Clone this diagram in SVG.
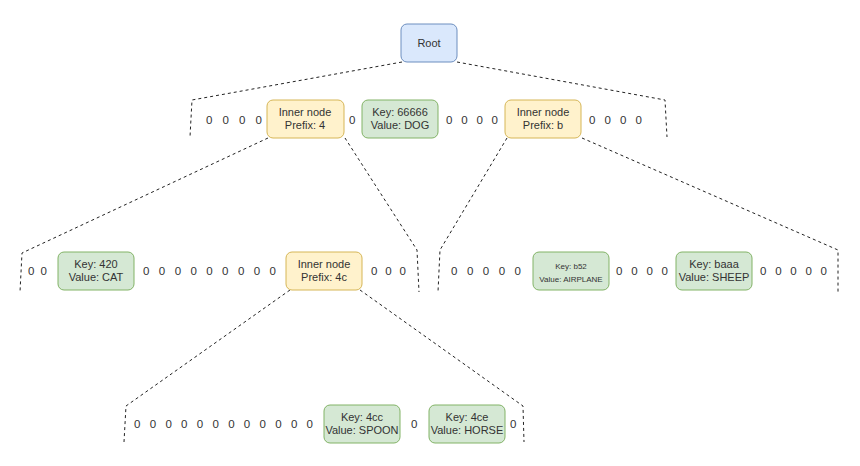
<svg xmlns="http://www.w3.org/2000/svg" width="860" height="466" viewBox="0 0 860 466">
<style>
.n{stroke-width:1}
.b{fill:#dae8fc;stroke:#6c8ebf}
.y{fill:#fff2cc;stroke:#d6b656}
.g{fill:#d5e8d4;stroke:#82b366}
text{font-family:"Liberation Sans",Arial,sans-serif;font-size:11px;fill:#333;text-anchor:middle}
.z{text-anchor:start;font-size:11.5px}
.s{font-size:8px}
.c{fill:none;stroke:#222;stroke-width:1;stroke-dasharray:3 3}
</style>
<rect width="860" height="466" fill="#fff"/>
<g id="connectors">
<polyline class="c" points="402,62 192,100 190,137"/>
<polyline class="c" points="457,62 665,100 667,137"/>
<polyline class="c" points="268,138 22,253 20,292"/>
<polyline class="c" points="345,138 417,250 419,292"/>
<polyline class="c" points="507,138 440,250 438,292"/>
<polyline class="c" points="582,138 838,250 838,292"/>
<polyline class="c" points="290,290 126,406 124,442"/>
<polyline class="c" points="360,290 523,406 524,442"/>
</g>
<g id="root"><rect class="n b" x="401" y="24" width="56" height="38" rx="6"/><text x="429" y="47">Root</text></g>
<g id="inner4"><rect class="n y" x="267" y="100" width="77" height="38" rx="6"/><text x="305" y="116">Inner node</text><text x="305" y="129">Prefix: 4</text></g>
<g id="dog"><rect class="n g" x="362" y="100" width="76" height="38" rx="6"/><text x="400" y="116">Key: 66666</text><text x="400" y="129">Value: DOG</text></g>
<g id="innerb"><rect class="n y" x="505" y="100" width="76" height="38" rx="6"/><text x="543" y="116">Inner node</text><text x="543" y="129">Prefix: b</text></g>
<g id="cat"><rect class="n g" x="58" y="252" width="76" height="38" rx="6"/><text x="96" y="268">Key: 420</text><text x="96" y="281">Value: CAT</text></g>
<g id="inner4c"><rect class="n y" x="286" y="252" width="76" height="38" rx="6"/><text x="324" y="268">Inner node</text><text x="324" y="281">Prefix: 4c</text></g>
<g id="airplane"><rect class="n g" x="533" y="252" width="76" height="38" rx="6"/><text class="s" x="571" y="269">Key: b52</text><text class="s" x="571" y="282">Value: AIRPLANE</text></g>
<g id="sheep"><rect class="n g" x="676" y="252" width="76" height="38" rx="6"/><text x="714" y="268">Key: baaa</text><text x="714" y="281">Value: SHEEP</text></g>
<g id="spoon"><rect class="n g" x="324" y="405" width="76" height="38" rx="6"/><text x="362" y="421">Key: 4cc</text><text x="362" y="434">Value: SPOON</text></g>
<g id="horse"><rect class="n g" x="429" y="405" width="76" height="38" rx="6"/><text x="467" y="421">Key: 4ce</text><text x="467" y="434">Value: HORSE</text></g>
<g id="zeros">
<text class="z" x="206" y="124" textLength="56" lengthAdjust="spacing">0 0 0 0</text>
<text class="z" x="349" y="124">0</text>
<text class="z" x="446" y="124" textLength="52" lengthAdjust="spacing">0 0 0 0</text>
<text class="z" x="589" y="124" textLength="53" lengthAdjust="spacing">0 0 0 0</text>
<text class="z" x="28" y="275" textLength="19" lengthAdjust="spacing">0 0</text>
<text class="z" x="143" y="275" textLength="133" lengthAdjust="spacing">0 0 0 0 0 0 0 0 0</text>
<text class="z" x="371" y="275" textLength="35" lengthAdjust="spacing">0 0 0</text>
<text class="z" x="451" y="275" textLength="70" lengthAdjust="spacing">0 0 0 0 0</text>
<text class="z" x="616" y="275" textLength="52" lengthAdjust="spacing">0 0 0 0</text>
<text class="z" x="760" y="275" textLength="67" lengthAdjust="spacing">0 0 0 0 0</text>
<text class="z" x="134" y="428" textLength="179" lengthAdjust="spacing">0 0 0 0 0 0 0 0 0 0 0 0</text>
<text class="z" x="411" y="428">0</text>
<text class="z" x="510" y="428">0</text>
</g>
</svg>
